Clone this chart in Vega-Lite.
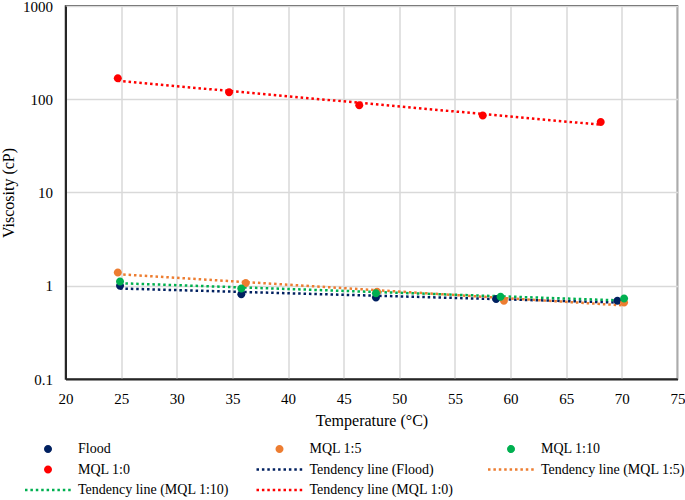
{
  "$schema": "https://vega.github.io/schema/vega-lite/v6.json",
  "width": 612,
  "height": 373,
  "autosize": "none",
  "padding": {"left": 65.5, "top": 6, "right": 7.5, "bottom": 121},
  "background": "white",
  "config": {
    "view": {"stroke": "#262626", "strokeWidth": 1.5},
    "font": "Liberation Serif",
    "axis": {
      "labelFont": "Liberation Serif",
      "labelFontSize": 15,
      "labelColor": "#000",
      "titleFont": "Liberation Serif",
      "titleFontSize": 16,
      "titleFontWeight": "normal",
      "titleColor": "#000",
      "tickSize": 0,
      "domainColor": "#262626",
      "domainWidth": 2,
      "gridColor": "#d9d9d9",
      "gridWidth": 1.5
    },
    "legend": {
      "orient": "none",
      "direction": "horizontal",
      "legendX": -27.5,
      "legendY": 433,
      "columns": 3,
      "gridAlign": "all",
      "columnPadding": 26.5,
      "rowPadding": 3.5,
      "padding": 0,
      "symbolSize": 400,
      "labelOffset": 20,
      "labelFont": "Liberation Serif",
      "labelFontSize": 14,
      "labelColor": "#000",
      "labelLimit": 300
    }
  },
  "datasets": {
    "points": [
      {"series": "Flood", "temp": 24.9, "visc": 1.0},
      {"series": "Flood", "temp": 35.8, "visc": 0.81},
      {"series": "Flood", "temp": 47.9, "visc": 0.75},
      {"series": "Flood", "temp": 58.7, "visc": 0.72},
      {"series": "Flood", "temp": 69.6, "visc": 0.69},
      {"series": "MQL 1:5", "temp": 24.7, "visc": 1.39},
      {"series": "MQL 1:5", "temp": 36.2, "visc": 1.07},
      {"series": "MQL 1:5", "temp": 48.0, "visc": 0.86},
      {"series": "MQL 1:5", "temp": 59.4, "visc": 0.69},
      {"series": "MQL 1:5", "temp": 70.2, "visc": 0.66},
      {"series": "MQL 1:10", "temp": 24.9, "visc": 1.11},
      {"series": "MQL 1:10", "temp": 35.8, "visc": 0.935},
      {"series": "MQL 1:10", "temp": 47.9, "visc": 0.83},
      {"series": "MQL 1:10", "temp": 59.1, "visc": 0.76},
      {"series": "MQL 1:10", "temp": 70.2, "visc": 0.73},
      {"series": "MQL 1:0", "temp": 24.7, "visc": 168},
      {"series": "MQL 1:0", "temp": 34.7, "visc": 119},
      {"series": "MQL 1:0", "temp": 46.4, "visc": 86},
      {"series": "MQL 1:0", "temp": 57.5, "visc": 67},
      {"series": "MQL 1:0", "temp": 68.1, "visc": 57}
    ],
    "trends": [
      {"series": "Tendency line (Flood)", "temp": 24.9, "visc": 0.934},
      {"series": "Tendency line (Flood)", "temp": 69.6, "visc": 0.661},
      {"series": "Tendency line (MQL 1:5)", "temp": 24.7, "visc": 1.33},
      {"series": "Tendency line (MQL 1:5)", "temp": 70.2, "visc": 0.615},
      {"series": "Tendency line (MQL 1:10)", "temp": 24.9, "visc": 1.064},
      {"series": "Tendency line (MQL 1:10)", "temp": 70.2, "visc": 0.694},
      {"series": "Tendency line (MQL 1:0)", "temp": 24.7, "visc": 157.6},
      {"series": "Tendency line (MQL 1:0)", "temp": 68.1, "visc": 53.3}
    ]
  },
  "encoding": {
    "x": {
      "field": "temp",
      "type": "quantitative",
      "title": "Temperature (°C)",
      "scale": {"domain": [20, 75], "nice": false, "zero": false},
      "axis": {"values": [20, 25, 30, 35, 40, 45, 50, 55, 60, 65, 70, 75], "labelPadding": 12, "titlePadding": 6, "labelFlush": false}
    },
    "y": {
      "field": "visc",
      "type": "quantitative",
      "title": "Viscosity (cP)",
      "scale": {"type": "log", "domain": [0.1, 1000], "nice": false},
      "axis": {"values": [0.1, 1, 10, 100, 1000], "format": "~g", "labelPadding": 13, "titlePadding": 6, "labelFlush": false}
    },
    "color": {
      "field": "series",
      "type": "nominal",
      "title": null,
      "scale": {
        "domain": ["Flood", "MQL 1:5", "MQL 1:10", "MQL 1:0", "Tendency line (Flood)", "Tendency line (MQL 1:5)", "Tendency line (MQL 1:10)", "Tendency line (MQL 1:0)"],
        "range": ["#002060", "#ED7D31", "#00B050", "#FF0000", "#002060", "#ED7D31", "#00B050", "#FF0000"]
      },
      "legend": {
        "encode": {
          "symbols": {
            "update": {
              "fill": {"scale": "color", "field": "value"},
              "stroke": {"value": "transparent"},
              "strokeWidth": {"value": 0},
              "opacity": {"value": 1}
            }
          }
        }
      }
    }
  },
  "layer": [
    {
      "data": {"name": "trends"},
      "mark": {"type": "line", "strokeWidth": 2.5, "strokeDash": [2.5, 2.9], "strokeCap": "butt"},
      "encoding": {"detail": {"field": "series"}}
    },
    {
      "data": {"name": "points"},
      "mark": {"type": "point", "filled": true, "size": 400, "opacity": 1},
      "encoding": {
        "shape": {
          "field": "series",
          "type": "nominal",
          "title": null,
          "scale": {
            "domain": ["Flood", "MQL 1:5", "MQL 1:10", "MQL 1:0", "Tendency line (Flood)", "Tendency line (MQL 1:5)", "Tendency line (MQL 1:10)", "Tendency line (MQL 1:0)"],
            "range": [
              "M-0.4,0A0.4,0.4,0,1,1,0.4,0A0.4,0.4,0,1,1,-0.4,0Z",
              "M-0.4,0A0.4,0.4,0,1,1,0.4,0A0.4,0.4,0,1,1,-0.4,0Z",
              "M-0.4,0A0.4,0.4,0,1,1,0.4,0A0.4,0.4,0,1,1,-0.4,0Z",
              "M-0.4,0A0.4,0.4,0,1,1,0.4,0A0.4,0.4,0,1,1,-0.4,0Z",
              "M-2.3,-0.125h0.25v0.25h-0.25ZM-1.76,-0.125h0.25v0.25h-0.25ZM-1.22,-0.125h0.25v0.25h-0.25ZM-0.68,-0.125h0.25v0.25h-0.25ZM-0.14,-0.125h0.25v0.25h-0.25ZM0.4,-0.125h0.25v0.25h-0.25ZM0.94,-0.125h0.25v0.25h-0.25ZM1.48,-0.125h0.25v0.25h-0.25ZM2.02,-0.125h0.25v0.25h-0.25Z",
              "M-2.3,-0.125h0.25v0.25h-0.25ZM-1.76,-0.125h0.25v0.25h-0.25ZM-1.22,-0.125h0.25v0.25h-0.25ZM-0.68,-0.125h0.25v0.25h-0.25ZM-0.14,-0.125h0.25v0.25h-0.25ZM0.4,-0.125h0.25v0.25h-0.25ZM0.94,-0.125h0.25v0.25h-0.25ZM1.48,-0.125h0.25v0.25h-0.25ZM2.02,-0.125h0.25v0.25h-0.25Z",
              "M-2.3,-0.125h0.25v0.25h-0.25ZM-1.76,-0.125h0.25v0.25h-0.25ZM-1.22,-0.125h0.25v0.25h-0.25ZM-0.68,-0.125h0.25v0.25h-0.25ZM-0.14,-0.125h0.25v0.25h-0.25ZM0.4,-0.125h0.25v0.25h-0.25ZM0.94,-0.125h0.25v0.25h-0.25ZM1.48,-0.125h0.25v0.25h-0.25ZM2.02,-0.125h0.25v0.25h-0.25Z",
              "M-2.3,-0.125h0.25v0.25h-0.25ZM-1.76,-0.125h0.25v0.25h-0.25ZM-1.22,-0.125h0.25v0.25h-0.25ZM-0.68,-0.125h0.25v0.25h-0.25ZM-0.14,-0.125h0.25v0.25h-0.25ZM0.4,-0.125h0.25v0.25h-0.25ZM0.94,-0.125h0.25v0.25h-0.25ZM1.48,-0.125h0.25v0.25h-0.25ZM2.02,-0.125h0.25v0.25h-0.25Z"
            ]
          }
        }
      }
    }
  ]
}
